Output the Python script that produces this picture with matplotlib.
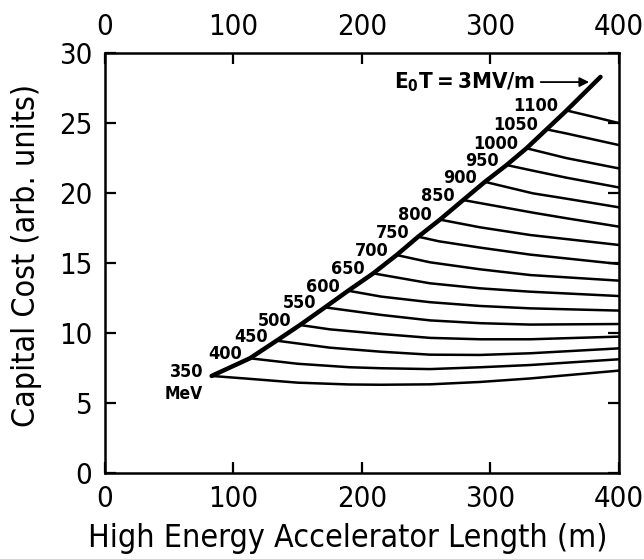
import matplotlib.pyplot as plt

# E0T = 3 MV/m locus (start, energy intersections, end)
locus_x = [83, 112.8, 133.6, 151.8, 171.2, 189.3, 208.8, 227, 243.8, 260.7,
           278.8, 295.7, 312.6, 328.1, 343.7, 359.3, 385.7]
locus_y = [6.93, 8.19, 9.45, 10.57, 11.83, 13.02, 14.26, 15.57, 16.88, 18.1,
           19.5, 20.8, 22.0, 23.2, 24.55, 25.9, 28.3]

energies = [350, 400, 450, 500, 550, 600, 650, 700, 750, 800,
            850, 900, 950, 1000, 1050, 1100]

# constant-energy curves: (length, cost) points
curves = {
    350: ([83, 113, 150, 190, 215, 253, 292, 331, 400],
          [6.93, 6.72, 6.45, 6.32, 6.3, 6.33, 6.5, 6.75, 7.31]),
    400: ([112.8, 150, 190.6, 215, 253, 292, 331, 400],
          [8.19, 7.8, 7.55, 7.48, 7.42, 7.55, 7.71, 8.12]),
    450: ([133.6, 175, 215, 253, 292, 331, 400],
          [9.45, 8.95, 8.66, 8.45, 8.43, 8.55, 8.9]),
    500: ([151.8, 175, 215, 253, 292, 331, 400],
          [10.57, 10.26, 9.93, 9.65, 9.55, 9.55, 9.74]),
    550: ([171.2, 215, 253, 292, 331, 400],
          [11.83, 11.29, 10.9, 10.7, 10.6, 10.64]),
    600: ([189.3, 215, 253, 292, 331, 400],
          [13.02, 12.6, 12.2, 11.93, 11.76, 11.6]),
    650: ([208.8, 253, 292, 331, 400],
          [14.26, 13.55, 13.19, 12.95, 12.64]),
    700: ([227, 253, 292, 331, 400],
          [15.57, 15.05, 14.55, 14.14, 13.74]),
    750: ([243.8, 260, 292, 331, 400],
          [16.88, 16.55, 16.1, 15.6, 14.93]),
    800: ([260.7, 292, 331, 400],
          [18.1, 17.55, 17.0, 16.29]),
    850: ([278.8, 333, 359, 400],
          [19.5, 18.6, 18.2, 17.6]),
    900: ([295.7, 333, 359, 400],
          [20.8, 19.98, 19.6, 18.98]),
    950: ([312.6, 333, 359, 400],
          [22.0, 21.6, 21.1, 20.4]),
    1000: ([328.1, 359, 400],
           [23.2, 22.5, 21.76]),
    1050: ([343.7, 359, 400],
           [24.55, 24.26, 23.43]),
    1100: ([359.3, 380, 400],
           [25.9, 25.45, 25.0]),
}

x_ticks = [0, 100, 200, 300, 400]
y_ticks = [0, 5, 10, 15, 20, 25, 30]

font = dict(family="DejaVu Sans", stretch="condensed")

fig = plt.figure(figsize=(6.44, 5.59), dpi=100)
ax = fig.add_axes([0.163, 0.154, 0.798, 0.751])

for e in energies:
    cx, cy = curves[e]
    ax.plot(cx, cy, color="black", lw=1.8, solid_capstyle="round")

ax.plot(locus_x, locus_y, color="black", lw=3.2, solid_capstyle="round")

# energy labels just above-left of each intersection
for e in energies:
    ax.annotate(str(e), xy=(curves[e][0][0], curves[e][1][0]),
                xytext=(-6, 3), textcoords="offset points",
                ha="right", va="center", fontsize=13, fontweight="bold",
                **font)
ax.annotate("MeV", xy=(curves[350][0][0], curves[350][1][0]),
            xytext=(-6, -13), textcoords="offset points",
            ha="right", va="center", fontsize=12.5, fontweight="bold", **font)

ax.text(225, 27.93, r"$\mathregular{E_0T = 3MV/m}$", fontsize=16,
        fontweight="bold", va="center", ha="left", **font)
ax.annotate("", xy=(379, 27.93), xytext=(337, 27.93),
            arrowprops=dict(arrowstyle="-|>", color="black", lw=1.3,
                            mutation_scale=14))

ax.set_xlim(0, 400)
ax.set_ylim(0, 30)
ax.set_xticks(x_ticks)
ax.set_yticks(y_ticks)
ax.tick_params(direction="in", length=8, width=1.6, pad=9,
               labelsize=21, top=True, right=True, labeltop=True)
for lbl in ax.xaxis.get_ticklabels(which="both") + ax.get_yticklabels():
    lbl.set_fontstretch("condensed")
for s in ax.spines.values():
    s.set_linewidth(1.8)

fig.text(348 / 644, 1 - 538 / 559, "High Energy Accelerator Length (m)",
         ha="center", va="center", fontsize=23, **font)
fig.text(27 / 644, 1 - 255 / 559, "Capital Cost (arb. units)",
         ha="center", va="center", rotation=90, fontsize=23, **font)

fig.savefig("out.png", dpi=100)
